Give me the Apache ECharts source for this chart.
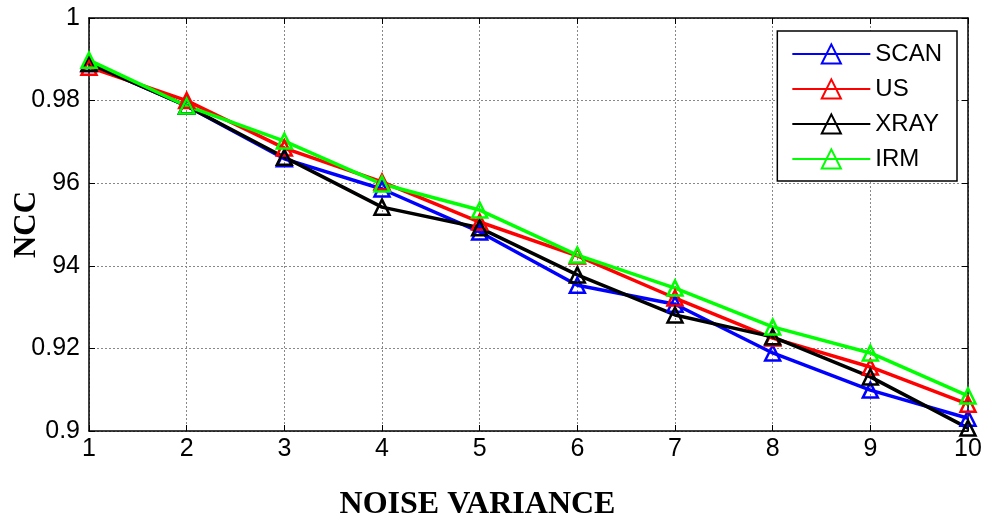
<!DOCTYPE html>
<html>
<head>
<meta charset="utf-8">
<script src="https://cdn.jsdelivr.net/npm/echarts@6/dist/echarts.min.js"></script>
<style>
  html, body { margin: 0; padding: 0; background: #fff; }
  #chart { width: 984px; height: 522px; }
</style>
</head>
<body>
<div id="chart"></div>
<script>
// noise variance steps
var variance = [1, 2, 3, 4, 5, 6, 7, 8, 9, 10];
var scan = [0.9890, 0.9787, 0.9659, 0.9586, 0.9482, 0.9353, 0.9307, 0.9189, 0.9099, 0.9031];
var us   = [0.9881, 0.9800, 0.9685, 0.9603, 0.9506, 0.9424, 0.9322, 0.9225, 0.9155, 0.9065];
var xray = [0.9890, 0.9787, 0.9663, 0.9542, 0.9492, 0.9378, 0.9281, 0.9228, 0.9131, 0.9007];
var irm  = [0.9898, 0.9787, 0.9702, 0.9598, 0.9535, 0.9426, 0.9346, 0.9252, 0.9189, 0.9085];
// tick labels as printed on the original
var yTickLabels = { '1': '1', '0.98': '0.98', '0.96': '96', '0.94': '94', '0.92': '0.92', '0.9': '0.9' };

var chart = echarts.init(document.getElementById('chart'));

function mkSeries(name, color, vals) {
  return {
    name: name,
    type: 'line',
    data: variance.map(function (x, i) { return [x, vals[i]]; }),
    symbol: 'triangle',
    symbolSize: 15,
    showAllSymbol: true,
    lineStyle: { color: color, width: 3.5 },
    itemStyle: { color: 'transparent', borderColor: color, borderWidth: 2.5 },
    emphasis: { disabled: true },
    animation: false
  };
}

var tickFont = { fontFamily: 'Liberation Sans, Arial', fontSize: 25, color: '#000' };

var option = {
  backgroundColor: '#fff',
  grid: { left: 89, right: 16, top: 18, bottom: 91, containLabel: false, outerBoundsMode: 'none' },
  legend: {
    right: 27,
    top: 31,
    orient: 'vertical',
    backgroundColor: '#fff',
    borderColor: '#000',
    borderWidth: 1.5,
    padding: [11, 15, 10, 14],
    itemGap: 11,
    itemWidth: 78,
    itemHeight: 24,
    textStyle: { fontFamily: 'Liberation Sans, Arial', fontSize: 24, color: '#000' },
    data: ['SCAN', 'US', 'XRAY', 'IRM']
  },
  xAxis: [{
    type: 'value',
    min: 1, max: 10, interval: 1,
    name: 'NOISE VARIANCE',
    nameLocation: 'middle',
    nameGap: 58,
    nameMoveOverlap: false,
    nameTextStyle: { fontFamily: 'Liberation Serif, Times New Roman', fontWeight: 'bold', fontSize: 32, color: '#000', padding: [0, 102, 0, 0] },
    axisLine: { lineStyle: { color: '#000', width: 1.5 } },
    axisTick: { inside: true, length: 6, lineStyle: { color: '#000' } },
    axisLabel: Object.assign({ margin: 6 }, tickFont),
    splitLine: { show: true, lineStyle: { color: '#888', type: [2, 2], width: 1 } }
  }, {
    type: 'value', position: 'top',
    min: 1, max: 10, interval: 1,
    axisLine: { show: true, onZero: false, lineStyle: { color: '#000', width: 1.5 } },
    axisTick: { inside: true, length: 6, lineStyle: { color: '#000' } },
    axisLabel: { show: false },
    splitLine: { show: false }
  }],
  yAxis: [{
    type: 'value',
    min: 0.9, max: 1, interval: 0.02,
    name: 'NCC',
    nameLocation: 'middle',
    nameGap: 47,
    nameMoveOverlap: false,
    nameTextStyle: { fontFamily: 'Liberation Serif, Times New Roman', fontWeight: 'bold', fontSize: 31, color: '#000' },
    axisLine: { show: true, lineStyle: { color: '#000', width: 1.5 } },
    axisTick: { inside: true, length: 6, lineStyle: { color: '#000' } },
    axisLabel: Object.assign({
      margin: 9,
      formatter: function (v) { return yTickLabels[String(+v.toFixed(2))] || ''; }
    }, tickFont),
    splitLine: { show: true, lineStyle: { color: '#888', type: [2, 2], width: 1 } }
  }, {
    type: 'value', position: 'right',
    min: 0.9, max: 1, interval: 0.02,
    axisLine: { show: true, onZero: false, lineStyle: { color: '#000', width: 1.5 } },
    axisTick: { inside: true, length: 6, lineStyle: { color: '#000' } },
    axisLabel: { show: false },
    splitLine: { show: false }
  }],
  series: [
    mkSeries('SCAN', '#0000ff', scan),
    mkSeries('US', '#ff0000', us),
    mkSeries('XRAY', '#000000', xray),
    mkSeries('IRM', '#00ff00', irm)
  ]
};

chart.setOption(option);
</script>
</body>
</html>
